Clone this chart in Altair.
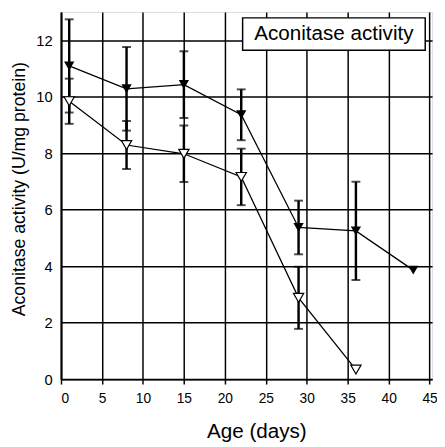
import altair as alt
import pandas as pd

# ---- data ----
days = [1, 8, 15, 22, 29, 36, 43]
filled_mean = [11.09, 10.28, 10.43, 9.36, 5.37, 5.25, 3.86]
filled_err = [1.65, 1.48, 1.18, 0.90, 0.95, 1.74, None]

open_days = [1, 8, 15, 22, 29, 36]
open_mean = [9.84, 8.29, 7.98, 7.16, 2.88, 0.34]
open_err = [0.80, 0.85, 1.00, 1.00, 1.10, None]

x_ticks = [0, 5, 10, 15, 20, 25, 30, 35, 40, 45]
y_ticks = [0, 2, 4, 6, 8, 10, 12]
box_label = ["Aconitase activity"]
x_title = "Age (days)"
y_title = "Aconitase activity (U/mg protein)"

rows = []
for d, m, e in zip(days, filled_mean, filled_err):
    rows.append(dict(day=d, mean=m, lo=(m - e) if e is not None else None,
                     hi=(m + e) if e is not None else None, series="filled"))
for d, m, e in zip(open_days, open_mean, open_err):
    rows.append(dict(day=d, mean=m, lo=(m - e) if e is not None else None,
                     hi=(m + e) if e is not None else None, series="open"))
df = pd.DataFrame(rows)
err_df = df.dropna(subset=["lo"])

FONT = "Liberation Sans"

xscale = alt.Scale(domain=[0, 45.3], nice=False, zero=False)
yscale = alt.Scale(domain=[0, 13], nice=False)

xax = alt.Axis(values=x_ticks, title=x_title, tickSize=5, labelFontSize=14,
               labelPadding=8, titleFontSize=21, titleX=199, titleY=42,
               titleBaseline="top", grid=True, gridColor="#000000",
               gridOpacity=1, gridWidth=1.5)
yax = alt.Axis(values=y_ticks, title=y_title, ticks=False, labelFontSize=15,
               labelPadding=9, titleFontSize=18, titleX=-42, titleY=180,
               titleBaseline="middle", titleAngle=270, grid=True,
               gridColor="#000000", gridOpacity=1, gridWidth=1.5)

base = alt.Chart(df)

lines = base.mark_line(color="black", strokeWidth=1.3).encode(
    x=alt.X("day:Q", scale=xscale, axis=xax),
    y=alt.Y("mean:Q", scale=yscale, axis=yax),
    detail="series:N",
)

err = alt.Chart(err_df)
err_rule = err.mark_rule(color="black", strokeWidth=2.5).encode(
    x="day:Q", y="lo:Q", y2="hi:Q")
cap_lo = err.mark_tick(color="black", thickness=2, size=9, orient="horizontal").encode(
    x="day:Q", y="lo:Q")
cap_hi = err.mark_tick(color="black", thickness=2, size=9, orient="horizontal").encode(
    x="day:Q", y="hi:Q")

pts_filled = base.transform_filter(alt.datum.series == "filled").mark_point(
    shape="triangle-down", size=110, filled=True, color="black", opacity=1
).encode(x="day:Q", y="mean:Q")
pts_open = base.transform_filter(alt.datum.series == "open").mark_point(
    shape="triangle-down", size=110, filled=True, fill="white", stroke="black",
    strokeWidth=1.2, opacity=1
).encode(x="day:Q", y="mean:Q")

lab_df = pd.DataFrame({"label": box_label})
box = alt.Chart(lab_df).mark_rect(fill="white", stroke="black", strokeWidth=1.5).encode(
    x=alt.value(185), x2=alt.value(371), y=alt.value(6), y2=alt.value(39))
box_text = alt.Chart(lab_df).mark_text(font=FONT, fontSize=21, color="black",
                                       baseline="middle", align="center").encode(
    x=alt.value(278), y=alt.value(23), text="label:N")

chart = alt.layer(lines, err_rule, cap_lo, cap_hi, pts_filled, pts_open, box, box_text).properties(
    width=378, height=374,
    autosize=alt.AutoSizeParams(type="none"),
    padding={"left": 54, "top": 0, "right": 5, "bottom": 62},
).configure_view(stroke="black", strokeWidth=2).configure(
    background="white"
).configure_axis(
    grid=True, gridColor="#000000", gridWidth=1.5, gridOpacity=1,
    domainColor="black", domainWidth=2, tickColor="black", tickWidth=1.5,
    labelFont=FONT, labelColor="black", titleFont=FONT, titleColor="black",
    titleFontWeight="normal",
)

chart.save("out.html", embed_options={"renderer": "svg", "actions": False})
